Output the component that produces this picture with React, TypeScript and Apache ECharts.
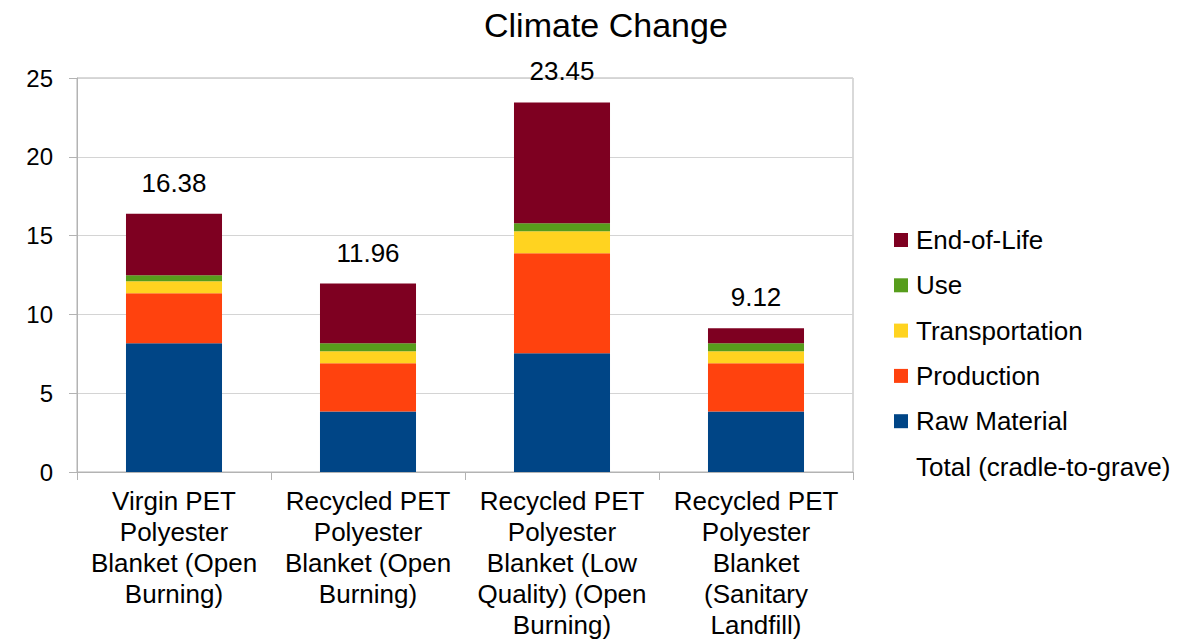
import React, { useEffect, useRef } from "react";
import * as echarts from "echarts";

// Climate change impact per life-cycle stage, four blanket scenarios
const categories = [
  "Virgin PET\nPolyester\nBlanket (Open\nBurning)",
  "Recycled PET\nPolyester\nBlanket (Open\nBurning)",
  "Recycled PET\nPolyester\nBlanket (Low\nQuality) (Open\nBurning)",
  "Recycled PET\nPolyester\nBlanket\n(Sanitary\nLandfill)",
];

const rawMaterial = [8.17, 3.84, 7.53, 3.84];
const production = [3.17, 3.06, 6.35, 3.06];
const transportation = [0.76, 0.76, 1.39, 0.76];
const use = [0.38, 0.51, 0.51, 0.51];
const endOfLife = [3.9, 3.79, 7.67, 0.95];
const total = [16.38, 11.96, 23.45, 9.12];

const yTicks = { min: 0, max: 25, interval: 5 };

const FONT = "'Liberation Sans', Arial, sans-serif";

export default function App() {
  const ref = useRef<HTMLDivElement>(null);

  useEffect(() => {
    document.body.style.margin = "0";
    if (!ref.current) return;
    const chart = echarts.init(ref.current, undefined, { renderer: "svg" });

    const stage = (name: string, data: number[], color: string) => ({
      name,
      type: "bar",
      stack: "stages",
      data,
      barWidth: "49.5%",
      itemStyle: { color },
      emphasis: { disabled: true },
    });

    chart.setOption({
      animation: false,
      textStyle: { fontFamily: FONT, color: "#000" },
      title: {
        text: "Climate Change",
        left: 484,
        top: 8,
        padding: 0,
        textStyle: { fontFamily: FONT, fontSize: 34, fontWeight: "normal", color: "#000" },
      },
      legend: {
        orient: "vertical",
        left: 894,
        top: 225,
        padding: 0,
        itemWidth: 14,
        itemHeight: 14,
        itemGap: 15.3,
        selectedMode: false,
        icon: "rect",
        textStyle: { fontFamily: FONT, fontSize: 26, lineHeight: 30, color: "#000", padding: [0, 0, 0, 3] },
        data: ["End-of-Life", "Use", "Transportation", "Production", "Raw Material", "Total (cradle-to-grave)"],
      },
      grid: {
        left: 77,
        right: 330,
        top: 78,
        bottom: 170,
        show: true,
        borderColor: "#b3b3b3",
        borderWidth: 1,
        containLabel: false,
      },
      xAxis: {
        type: "category",
        data: categories,
        axisLine: { lineStyle: { color: "#b3b3b3" } },
        axisTick: { show: true, length: 8, alignWithLabel: false, lineStyle: { color: "#b3b3b3" } },
        axisLabel: {
          interval: 0,
          margin: 13,
          fontFamily: FONT,
          fontSize: 26,
          lineHeight: 31,
          color: "#000",
          align: "center",
        },
      },
      yAxis: {
        type: "value",
        min: yTicks.min,
        max: yTicks.max,
        interval: yTicks.interval,
        axisLine: { show: true, lineStyle: { color: "#b3b3b3" } },
        axisTick: { show: true, length: 8, lineStyle: { color: "#b3b3b3" } },
        splitLine: { lineStyle: { color: "#d4d4d4" } },
        axisLabel: { margin: 24, fontFamily: FONT, fontSize: 24, color: "#000" },
      },
      series: [
        stage("Raw Material", rawMaterial, "#004586"),
        stage("Production", production, "#ff420e"),
        stage("Transportation", transportation, "#ffd320"),
        stage("Use", use, "#579d1c"),
        stage("End-of-Life", endOfLife, "#7e0021"),
        {
          name: "Total (cradle-to-grave)",
          type: "bar",
          data: total,
          barWidth: "49.5%",
          barGap: "-100%",
          itemStyle: { color: "rgba(0,0,0,0)" },
          emphasis: { disabled: true },
          label: {
            show: true,
            position: "top",
            distance: 18,
            fontFamily: FONT,
            fontSize: 26,
            color: "#000",
            formatter: (p: any) => p.value.toFixed(2),
          },
          z: 10,
        },
      ],
    });

    return () => chart.dispose();
  }, []);

  return <div ref={ref} style={{ width: 1183, height: 642 }} />;
}
